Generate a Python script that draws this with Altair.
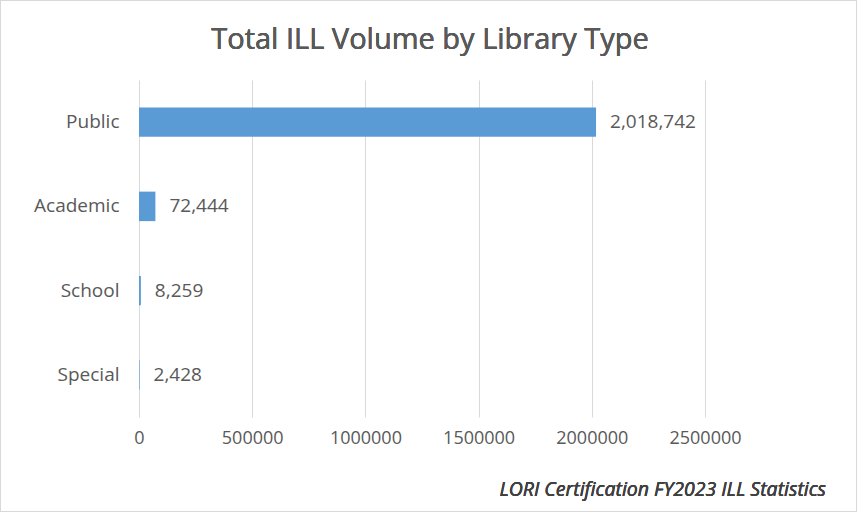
import altair as alt
import pandas as pd

# Total interlibrary-loan volume per library type
library_types = ["Public", "Academic", "School", "Special"]
ill_volume = [2018742, 72444, 8259, 2428]
x_ticks = [0, 500000, 1000000, 1500000, 2000000, 2500000]

df = pd.DataFrame({"type": library_types, "volume": ill_volume})

FONT = "Open Sans"
GREY = "#595959"

base = alt.Chart(df)

y_enc = alt.Y(
    "type:N",
    sort=library_types,
    title=None,
    scale=alt.Scale(paddingInner=0.65, paddingOuter=0.325),
    axis=alt.Axis(domain=False, ticks=False, labelFontSize=19, labelColor=GREY,
                  labelFont=FONT, labelPadding=20, grid=False),
)
x_enc = alt.X(
    "volume:Q",
    title=None,
    scale=alt.Scale(domain=[0, 2500000], nice=False),
    axis=alt.Axis(values=x_ticks, format="d", domain=False, ticks=False,
                  labelFontSize=18, labelColor=GREY, labelFont=FONT,
                  labelPadding=12, labelFlush=False, labelOverlap=False,
                  grid=True, gridColor="#d9d9d9"),
)

bars = base.mark_bar(color="#5B9BD5").encode(x=x_enc, y=y_enc)

labels = base.mark_text(align="left", dx=14, fontSize=19, font=FONT, color=GREY).encode(
    x="volume:Q", y=alt.Y("type:N", sort=library_types), text=alt.Text("volume:Q", format=",")
)

# Chart heading, centred over the figure
heading = base.mark_text(align="center", baseline="alphabetic", fontSize=29, font=FONT,
                         color=GREY).encode(
    x=alt.value(291), y=alt.value(-31), text=alt.value("Total ILL Volume by Library Type")
)

# Source note under the axis
source = base.mark_text(align="right", baseline="alphabetic", fontSize=19.5, font=FONT,
                        fontStyle="italic", color="#404040").encode(
    x=alt.value(687), y=alt.value(416), text=alt.value("LORI Certification FY2023 ILL Statistics")
)

# Light outline around the whole figure
frame = base.mark_rect(fill=None, stroke="#d9d9d9", strokeWidth=1).encode(
    x=alt.value(-138.5), x2=alt.value(717.5), y=alt.value(-79.5), y2=alt.value(431.5)
)

chart = alt.layer(bars, labels, heading, source, frame).properties(
    width=566,
    height=337,
    background="white",
    autosize=alt.AutoSizeParams(type="none"),
    padding={"left": 139, "top": 80, "right": 152, "bottom": 95},
).configure_view(stroke=None, strokeWidth=0)

chart.save("out.html", embed_options={"renderer": "svg", "actions": False})
